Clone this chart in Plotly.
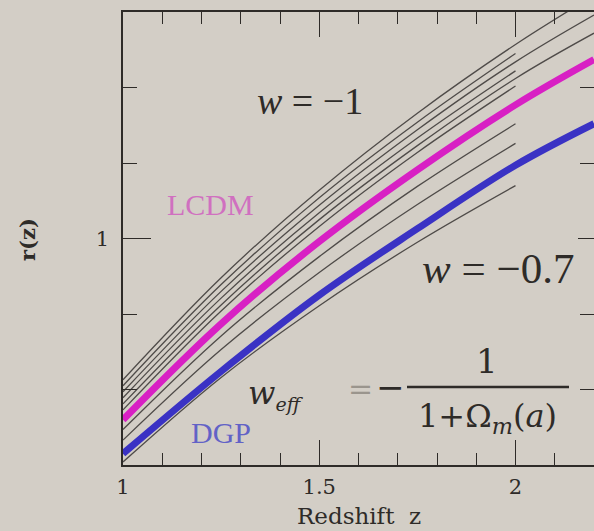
import plotly.graph_objects as go

# ---------------- data ----------------
z_long = [1.0, 1.25, 1.5, 1.75, 2.0, 2.2]
z_short = [1.0, 1.25, 1.5, 1.75, 2.0]

r_lcdm = [0.760, 0.887, 0.996, 1.091, 1.177, 1.237]
r_dgp = [0.715, 0.824, 0.925, 1.013, 1.097, 1.152]

# thin model curves that run past z = 2
r_thin_1 = [0.813, 0.948, 1.064, 1.166, 1.257, 1.322]
r_thin_3 = [0.797, 0.930, 1.044, 1.144, 1.234, 1.296]
r_thin_5 = [0.781, 0.912, 1.025, 1.123, 1.212, 1.272]
# thin model curves that stop at z = 2
r_thin_2 = [0.805, 0.939, 1.054, 1.154, 1.245]
r_thin_4 = [0.789, 0.921, 1.034, 1.133, 1.222]
r_thin_6 = [0.773, 0.904, 1.016, 1.114, 1.202]
r_thin_7 = [0.747, 0.871, 0.976, 1.069, 1.152]
r_thin_8 = [0.733, 0.853, 0.955, 1.045, 1.126]
r_thin_9 = [0.704, 0.816, 0.911, 0.995, 1.070]

x_tick_vals = [1, 1.5, 2]
x_tick_text = ["1", "1.5", "2"]
y_tick_vals = [1]
y_tick_text = ["1"]

# ---------------- layout constants ----------------
W, H = 594, 531
L, R, T, B = 123, 594, 12, 465
BG = "#d3cec6"
INK = "#2e2b28"
SERIF = "Liberation Serif, serif"
WIDE = "DejaVu Serif, serif"


def px(x):
    return (x - L) / (R - L)


def py(y):
    return (B - y) / (B - T)


fig = go.Figure()

thin_style = dict(color="rgba(55,52,50,0.85)", width=1.3, shape="spline")
for r in [r_thin_1, r_thin_3, r_thin_5]:
    fig.add_trace(go.Scatter(x=z_long, y=r, mode="lines", line=thin_style,
                             showlegend=False, hoverinfo="skip"))
for r in [r_thin_2, r_thin_4, r_thin_6, r_thin_7, r_thin_8, r_thin_9]:
    fig.add_trace(go.Scatter(x=z_short, y=r, mode="lines", line=thin_style,
                             showlegend=False, hoverinfo="skip"))

fig.add_trace(go.Scatter(x=z_long, y=r_lcdm, mode="lines", name="LCDM",
                         line=dict(color="#d820c4", width=7, shape="spline"),
                         showlegend=False))
fig.add_trace(go.Scatter(x=z_long, y=r_dgp, mode="lines", name="DGP",
                         line=dict(color="#3a32c4", width=7, shape="spline"),
                         showlegend=False))
# empty trace to anchor the mirrored axes
fig.add_trace(go.Scatter(x=[None], y=[None], xaxis="x2", yaxis="y2",
                         showlegend=False, hoverinfo="skip"))

tick_font = dict(family=WIDE, size=21, color=INK)
minor_x = dict(dtick=0.1, tick0=0, ticks="inside", ticklen=12,
               tickwidth=1.3, tickcolor=INK, showgrid=False)
minor_y = dict(dtick=0.1, tick0=0, ticks="inside", ticklen=14,
               tickwidth=1.3, tickcolor=INK, showgrid=False)

fig.update_layout(
    width=W, height=H,
    margin=dict(l=L, r=W - R, t=T, b=H - B, pad=0),
    paper_bgcolor=BG, plot_bgcolor=BG,
    xaxis=dict(range=[1, 2.2], tickmode="array", tickvals=x_tick_vals,
               ticktext=x_tick_text, ticks="inside", ticklen=25, tickwidth=1.3,
               tickcolor=INK, showline=True, linecolor=INK, linewidth=1.6,
               showgrid=False, zeroline=False, tickfont=tick_font,
               ticklabelstandoff=2, automargin=False, minor=minor_x),
    xaxis2=dict(range=[1, 2.2], overlaying="x", side="top", matches="x",
                tickmode="array", tickvals=x_tick_vals, ticks="inside",
                ticklen=25, tickwidth=1.3, tickcolor=INK, showticklabels=False,
                showline=True, linecolor=INK, linewidth=1.6, showgrid=False,
                zeroline=False, automargin=False, minor=minor_x),
    yaxis=dict(range=[0.7, 1.3], tickmode="array", tickvals=y_tick_vals,
               ticktext=y_tick_text, ticks="inside", ticklen=28, tickwidth=1.3,
               tickcolor=INK, showline=True, linecolor=INK, linewidth=1.6,
               showgrid=False, zeroline=False, tickfont=tick_font,
               ticklabelstandoff=8, automargin=False, minor=minor_y),
    yaxis2=dict(range=[0.7, 1.3], overlaying="y", side="right", matches="y",
                tickmode="array", tickvals=y_tick_vals, ticks="inside",
                ticklen=16, tickwidth=1.3, tickcolor=INK, showticklabels=False,
                showline=False, showgrid=False, zeroline=False,
                automargin=False, minor=minor_y),
)

ann = []


def add_text(text, x, y, size, color=INK, angle=0, family=SERIF):
    ann.append(dict(text=text, x=px(x), y=py(y), xref="paper", yref="paper",
                    showarrow=False, xanchor="center", yanchor="middle",
                    textangle=angle,
                    font=dict(family=family, size=size, color=color)))


add_text("Redshift  z", 359, 516, 23, family=WIDE)
add_text("<b>r(z)</b>", 27, 240, 21, angle=-90, family=WIDE)
add_text("<i>w</i> = −1", 310, 101, 38)
add_text("LCDM", 210, 204, 30, color="#d070c0")
add_text("<i>w</i> = −0.7", 498, 268, 43)
add_text("DGP", 221, 432, 30, color="#6262c6")
add_text("<i>w</i><sub><i><span style='font-size:19px'>eff</span></i></sub>",
         276, 394, 32, family=WIDE)
add_text("=", 360, 388, 30, color="#9a958d", family=WIDE)
add_text("−", 390, 387, 34, family=WIDE)
add_text("1", 487, 361, 34, family=WIDE)
add_text("1+Ω<sub><i>m</i></sub>(<i>a</i>)", 487, 418, 32, family=WIDE)

fig.update_layout(annotations=ann)
fig.add_shape(type="line", xref="paper", yref="paper",
              x0=px(407), x1=px(569), y0=py(387), y1=py(387),
              line=dict(color=INK, width=2.5))

fig.write_html(
    "out.html",
    config={"displayModeBar": False},
    post_script="document.body.style.margin='0';"
                "document.body.style.background='%s';" % BG,
)
